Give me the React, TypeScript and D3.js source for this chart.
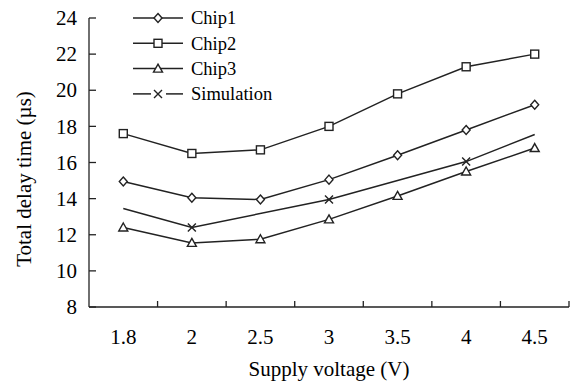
import React from "react";
import * as d3 from "d3";

const categories = ["1.8", "2", "2.5", "3", "3.5", "4", "4.5"];
const chip1 = [14.95, 14.05, 13.95, 15.05, 16.4, 17.8, 19.2];
const chip2 = [17.6, 16.5, 16.7, 18.0, 19.8, 21.3, 22.0];
const chip3 = [12.4, 11.55, 11.75, 12.85, 14.15, 15.5, 16.8];
const simulation: (number | null)[] = [13.45, 12.4, null, 13.95, null, 16.05, 17.55];
const simMarkers = [false, true, false, true, false, true, false];
const yTicks = [8, 10, 12, 14, 16, 18, 20, 22, 24];

const W = 573, H = 382;
const left = 89, right = 569, top = 18, bottom = 307;
const FONT = "'Liberation Serif', 'Times New Roman', serif";
const COL = "#222";

function Marker({ type, x, y }: { type: string; x: number; y: number }) {
  const s = 4;
  if (type === "diamond")
    return <path d={`M${x},${y - s - 0.5}L${x + s},${y}L${x},${y + s + 0.5}L${x - s},${y}Z`} fill="#fff" stroke={COL} strokeWidth={1.4} />;
  if (type === "square")
    return <rect x={x - s} y={y - s} width={2 * s} height={2 * s} fill="#fff" stroke={COL} strokeWidth={1.4} />;
  if (type === "triangle")
    return <path d={`M${x},${y - s - 0.5}L${x + s + 0.5},${y + s - 0.5}L${x - s - 0.5},${y + s - 0.5}Z`} fill="#fff" stroke={COL} strokeWidth={1.4} />;
  return <path d={`M${x - 4},${y - 4}L${x + 4},${y + 4}M${x + 4},${y - 4}L${x - 4},${y + 4}`} stroke={COL} strokeWidth={1.4} />;
}

export default function App() {
  const x = d3.scaleBand<string>().domain(categories).range([left, right]);
  const cx = (c: string) => (x(c) as number) + x.bandwidth() / 2;
  const y = d3.scaleLinear().domain([8, 24]).range([bottom, top]);

  const series = [
    { name: "Chip1", values: chip1 as (number | null)[], marker: "diamond", show: categories.map(() => true) },
    { name: "Chip2", values: chip2 as (number | null)[], marker: "square", show: categories.map(() => true) },
    { name: "Chip3", values: chip3 as (number | null)[], marker: "triangle", show: categories.map(() => true) },
    { name: "Simulation", values: simulation, marker: "x", show: simMarkers },
  ];

  const line = d3
    .line<{ c: string; v: number | null }>()
    .defined((d) => d.v !== null)
    .x((d) => cx(d.c))
    .y((d) => y(d.v as number));

  const boundaries = categories.map((c) => x(c) as number).concat([right]);

  return (
    <svg width={W} height={H} style={{ position: "absolute", left: 0, top: 0, background: "#fff" }}>
      {/* axes */}
      <line x1={left} y1={top} x2={left} y2={bottom} stroke={COL} strokeWidth={1.3} />
      <line x1={left} y1={bottom} x2={right} y2={bottom} stroke={COL} strokeWidth={1.3} />
      {yTicks.map((t) => (
        <g key={t}>
          <line x1={left} x2={left + 7} y1={y(t)} y2={y(t)} stroke={COL} strokeWidth={1.3} />
          <text x={left - 12} y={y(t)} dy="0.34em" textAnchor="end" fontFamily={FONT} fontSize={21} fill="#000">
            {t}
          </text>
        </g>
      ))}
      {boundaries.slice(1).map((b, i) => (
        <line key={i} x1={b} x2={b} y1={bottom} y2={bottom - 6} stroke={COL} strokeWidth={1.3} />
      ))}
      {categories.map((c) => (
        <text key={c} x={cx(c)} y={344} textAnchor="middle" fontFamily={FONT} fontSize={21} fill="#000">
          {c}
        </text>
      ))}
      <text x={329} y={376} textAnchor="middle" fontFamily={FONT} fontSize={21} fill="#000">
        Supply voltage (V)
      </text>
      <text
        transform={`translate(31,179) rotate(-90)`}
        textAnchor="middle"
        fontFamily={FONT}
        fontSize={21}
        fill="#000"
      >
        Total delay time (µs)
      </text>

      {/* series */}
      {series.map((s) => {
        const pts = categories.map((c, i) => ({ c, v: s.values[i] }));
        const defined = pts.filter((p) => p.v !== null);
        return (
          <g key={s.name}>
            <path d={line(defined) || ""} fill="none" stroke={COL} strokeWidth={1.5} />
            {pts.map((p, i) =>
              p.v !== null && s.show[i] ? <Marker key={i} type={s.marker} x={cx(p.c)} y={y(p.v)} /> : null
            )}
          </g>
        );
      })}

      {/* legend */}
      {series.map((s, i) => {
        const ly = 18 + i * 25.3;
        return (
          <g key={s.name}>
            {s.marker === "x" ? (
              <>
                <line x1={133} x2={151} y1={ly} y2={ly} stroke={COL} strokeWidth={1.5} />
                <line x1={166} x2={183} y1={ly} y2={ly} stroke={COL} strokeWidth={1.5} />
              </>
            ) : (
              <line x1={133} x2={183} y1={ly} y2={ly} stroke={COL} strokeWidth={1.5} />
            )}
            <Marker type={s.marker} x={158} y={ly} />
            <text x={191} y={ly} dy="0.34em" fontFamily={FONT} fontSize={18.5} fill="#000">
              {s.name}
            </text>
          </g>
        );
      })}
    </svg>
  );
}
